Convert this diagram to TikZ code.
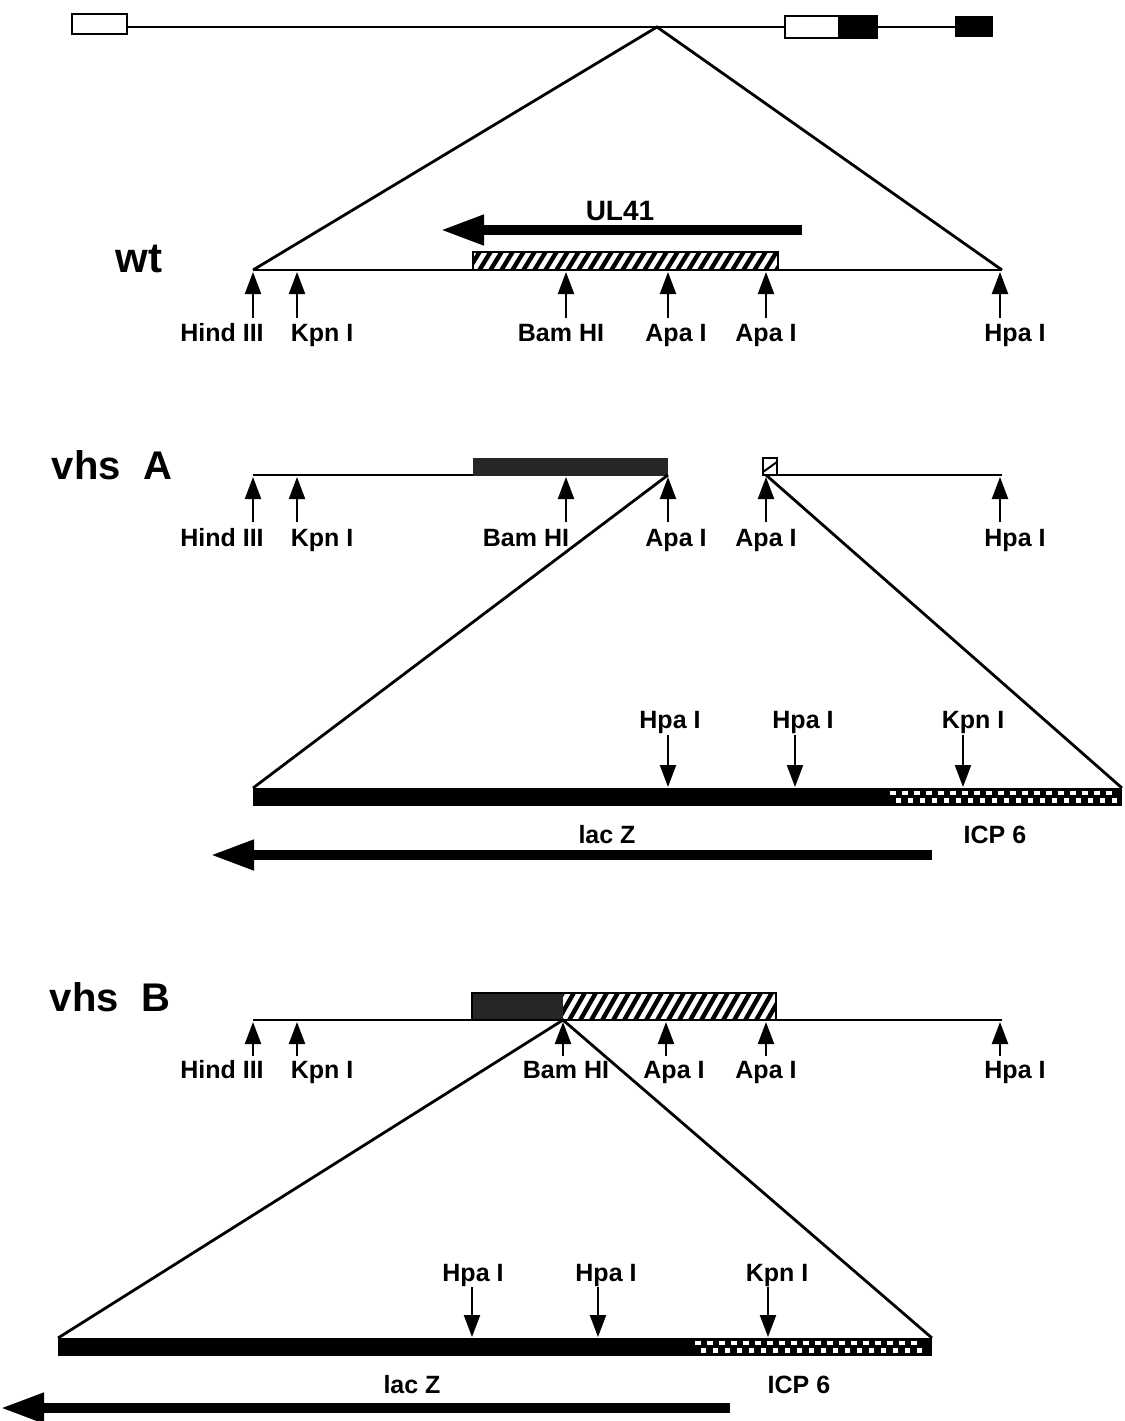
\documentclass[tikz,border=0pt]{standalone}
\usepackage{fontspec}
\setmainfont{Liberation Sans}
\usetikzlibrary{arrows.meta}

\tikzset{
  dna/.style={line width=1.2pt},
  fan/.style={line width=1.4pt},
  boxline/.style={line width=1.4pt},
  site/.style={line width=1.1pt,-{Triangle[length=11pt,width=8pt]}},
  gene/.style={line width=5pt,-{Triangle[length=22pt,width=14pt]}},
  lbl/.style={font=\bfseries\fontsize{12.5}{14}\selectfont,inner sep=0pt,anchor=base},
  tag/.style={font=\bfseries\fontsize{20}{22}\selectfont,inner sep=0pt,anchor=base},
  stipple/.style={fill=black!85},
}

\begin{document}
\begin{tikzpicture}[x=0.5pt,y=-0.5pt]
\useasboundingbox (0,0) rectangle (1125,1421);

% genome map
\draw[dna] (127,27) -- (785,27);
\draw[dna] (877,27) -- (955,27);
\draw[boxline] (72,14) rectangle (127,34);
\fill (838,16) rectangle (877,38);
\draw[boxline] (785,16) rectangle (877,38);
\fill (955,16) rectangle (993,37);
\coordinate (apex) at (657,27);

% wt
\coordinate (wtL) at (253,270); \coordinate (wtR) at (1002,270);
\draw[fan] (wtL) -- (apex) -- (wtR);
\draw[dna] (wtL) -- (wtR);
\fill[white] (473,252) rectangle (778,270);
\begin{scope}
\clip (473,252) rectangle (778,270);
\foreach \x in {455,466,...,785} \draw[line width=2.2pt] (\x,274) -- (\x+16,248);
\end{scope}
\draw[boxline] (473,252) rectangle (778,270);
\coordinate (ulS) at (802,230); \coordinate (ulE) at (440,230);
\draw[gene] (ulS) -- (ulE);
\node[lbl,font=\bfseries\fontsize{14}{16}\selectfont] (ul41) at (620,220) {UL41};
\node[tag,font=\bfseries\fontsize{21}{23}\selectfont] (wt) at (139,272) {wt};
\foreach \x/\lx/\t [count=\i] in {253/222/Hind III,297/322/Kpn I,566/561/Bam HI,668/676/Apa I,766/766/Apa I,1000/1015/Hpa I}{
  \coordinate (wta\i) at (\x,318); \coordinate (wtb\i) at (\x,272);
  \draw[site] (wta\i) -- (wtb\i);
  \node[lbl] (wtl\i) at (\lx,341) {\t};
}

% vhs A
\node[tag] (vhsA) at (112,479) {vhs\ \ A};
\coordinate (aL) at (253,475); \coordinate (aR) at (1002,475);
\coordinate (aP) at (668,475); \coordinate (aQ) at (766,475);
\draw[dna] (aL) -- (473,475);
\draw[dna] (777,475) -- (aR);
\fill[stipple] (473,458) rectangle (668,476);
\draw[boxline] (763,458) rectangle (777,475);
\draw[line width=1pt] (763,472) -- (777,462);
\foreach \x/\lx/\t [count=\i] in {253/222/Hind III,297/322/Kpn I,566/526/Bam HI,668/676/Apa I,766/766/Apa I,1000/1015/Hpa I}{
  \coordinate (aa\i) at (\x,522); \coordinate (ab\i) at (\x,477);
  \draw[site] (aa\i) -- (ab\i);
  \node[lbl] (al\i) at (\lx,546) {\t};
}
\coordinate (aiL) at (253,788); \coordinate (aiR) at (1122,788);
\draw[fan] (aP) -- (aiL);
\draw[fan] (aQ) -- (aiR);
\fill (253,788) rectangle (1122,806);
\foreach \x in {890,902,...,1112}{
  \fill[white] (\x,791) rectangle +(6,4);
  \fill[white] (\x+6,798) rectangle +(5,5);
}
\foreach \x/\lx/\t [count=\i] in {668/670/Hpa I,795/803/Hpa I,963/973/Kpn I}{
  \coordinate (ad\i) at (\x,735); \coordinate (ae\i) at (\x,787);
  \draw[site] (ad\i) -- (ae\i);
  \node[lbl] (ah\i) at (\lx,728) {\t};
}
\node[lbl] (alac) at (607,843) {lac Z};
\node[lbl] (aicp) at (995,843) {ICP 6};
\coordinate (agS) at (932,855); \coordinate (agE) at (210,855);
\draw[gene] (agS) -- (agE);

% vhs B
\node[tag] (vhsB) at (110,1011) {vhs\ \ B};
\coordinate (bL) at (253,1020); \coordinate (bR) at (1002,1020);
\coordinate (bP) at (563,1020);
\draw[dna] (bL) -- (bR);
\fill[stipple] (472,993) rectangle (563,1020);
\fill[white] (563,993) rectangle (776,1020);
\begin{scope}
\clip (563,993) rectangle (776,1020);
\foreach \x in {545,556,...,785} \draw[line width=2.2pt] (\x,1024) -- (\x+20,989);
\end{scope}
\draw[boxline] (472,993) rectangle (776,1020);
\foreach \x/\lx/\t [count=\i] in {253/222/Hind III,297/322/Kpn I,563/566/Bam HI,666/674/Apa I,766/766/Apa I,1000/1015/Hpa I}{
  \coordinate (ba\i) at (\x,1056); \coordinate (bb\i) at (\x,1022);
  \draw[site] (ba\i) -- (bb\i);
  \node[lbl] (bl\i) at (\lx,1078) {\t};
}
\coordinate (biL) at (58,1338); \coordinate (biR) at (932,1338);
\draw[fan] (biL) -- (bP) -- (biR);
\fill (58,1338) rectangle (932,1356);
\foreach \x in {695,707,...,922}{
  \fill[white] (\x,1341) rectangle +(6,4);
  \fill[white] (\x+6,1348) rectangle +(5,5);
}
\foreach \x/\lx/\t [count=\i] in {472/473/Hpa I,598/606/Hpa I,768/777/Kpn I}{
  \coordinate (bd\i) at (\x,1287); \coordinate (be\i) at (\x,1337);
  \draw[site] (bd\i) -- (be\i);
  \node[lbl] (bh\i) at (\lx,1281) {\t};
}
\node[lbl] (blac) at (412,1393) {lac Z};
\node[lbl] (bicp) at (799,1393) {ICP 6};
\coordinate (bgS) at (730,1408); \coordinate (bgE) at (0,1408);
\draw[gene] (bgS) -- (bgE);
\end{tikzpicture}
\end{document}
